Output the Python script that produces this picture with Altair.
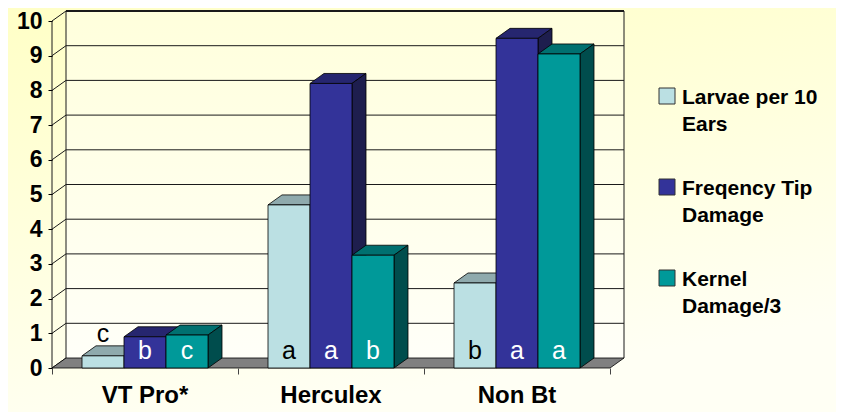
import altair as alt
import pandas as pd

# ---------------- data ----------------
categories = ["VT Pro*", "Herculex", "Non Bt"]
series = ["Larvae per 10 Ears", "Freqency Tip Damage", "Kernel Damage/3"]
legend_lines = [["Larvae per 10", "Ears"], ["Freqency Tip", "Damage"], ["Kernel", "Damage/3"]]
larvae = [0.35, 4.7, 2.45]
tip_damage = [0.9, 8.2, 9.5]
kernel_damage = [0.95, 3.25, 9.05]
larvae_letters = ["c", "a", "b"]
tip_letters = ["b", "a", "a"]
kernel_letters = ["c", "b", "a"]
y_ticks = list(range(0, 11))

values = [larvae, tip_damage, kernel_damage]
letters = [larvae_letters, tip_letters, kernel_letters]

# ---------------- styling / geometry ----------------
FONT = "Liberation Sans"
front_col = ["#BBE0E3", "#333399", "#009999"]
top_col = ["#8FAAAD", "#26266F", "#007070"]
side_col = ["#6E8587", "#1E1E4E", "#004D4D"]
letter_col = ["black", "white", "white"]

BAND = 186.0     # px per category
UNIT = 34.7      # px per y unit
DX, DY = 14.0, 10.0   # 3D depth offsets (px)
NCAT = len(categories)
W = NCAT * BAND + DX
H = 10 * UNIT + DY
dxu = DX / BAND
dyu = DY / UNIT
PADU = 30.0 / BAND
BWU = 42.0 / BAND
YMAX = 10
PAD = {"left": 44, "top": 3, "right": 212, "bottom": 44}

xs = alt.Scale(domain=[0, NCAT + dxu], nice=False, zero=False)
ys = alt.Scale(domain=[0, YMAX + dyu], nice=False, zero=False)

AX_X = alt.Axis(values=list(range(NCAT + 1)), labels=False, ticks=True, tickSize=6,
                tickColor="#444", domain=False, grid=False, title=None, zindex=2)
AX_Y = alt.Axis(values=y_ticks, tickSize=4, tickColor="black", domain=False, grid=False,
                labelFont=FONT, labelFontWeight="bold", labelFontSize=23,
                labelColor="black", labelPadding=6, title=None, zindex=2)

def X(f):
    return alt.X(f, type="quantitative", scale=xs, axis=AX_X)

def Y(f):
    return alt.Y(f, type="quantitative", scale=ys, axis=AX_Y)

one = pd.DataFrame({"a": [0]})
layers = []

# page background (gradient)
layers.append(alt.Chart(one).mark_rect(
    color=alt.Gradient(gradient="linear",
                       stops=[alt.GradientStop(color="#FFFFC6", offset=0),
                              alt.GradientStop(color="#FFFFF4", offset=1)],
                       x1=0, y1=0, x2=0.35, y2=1)
).encode(x=alt.value(-PAD["left"]), x2=alt.value(W + PAD["right"]),
         y=alt.value(-PAD["top"]), y2=alt.value(H + PAD["bottom"])))

# back wall
wall = pd.DataFrame({"x": [dxu], "x2": [NCAT + dxu], "y": [dyu], "y2": [YMAX + dyu]})
layers.append(alt.Chart(wall).mark_rect(
    color=alt.Gradient(gradient="linear",
                       stops=[alt.GradientStop(color="#FFFFDC", offset=0),
                              alt.GradientStop(color="#FFFFF8", offset=1)],
                       x1=0, y1=0, x2=0, y2=1)
).encode(x=X("x"), x2="x2", y=Y("y"), y2="y2"))

# grid lines: horizontal on back wall + diagonals on left wall
rules = []
for k in y_ticks:
    if k > 0:
        rules.append({"x": dxu, "x2": NCAT + dxu, "y": k + dyu, "y2": k + dyu, "w": 1.8 if k == YMAX else 1.0})
    rules.append({"x": 0, "x2": dxu, "y": k, "y2": k + dyu, "w": 1.0})
rules.append({"x": dxu, "x2": dxu, "y": dyu, "y2": YMAX + dyu, "w": 1.0})
rules.append({"x": NCAT + dxu, "x2": NCAT + dxu, "y": dyu, "y2": YMAX + dyu, "w": 1.0})
rules.append({"x": 0, "x2": 0, "y": 0, "y2": YMAX, "w": 1.0})
layers.append(alt.Chart(pd.DataFrame(rules)).mark_rule(color="#1a1a1a").encode(
    x=X("x"), x2="x2", y=Y("y"), y2="y2",
    strokeWidth=alt.StrokeWidth("w:Q", scale=None)))

# floor
floor = pd.DataFrame({"x": [0, dxu, NCAT, NCAT + dxu], "lo": [0, 0, 0, dyu], "hi": [0, dyu, dyu, dyu]})
layers.append(alt.Chart(floor).mark_area(color="#808080", stroke="black", strokeWidth=0.8,
                                         orient="vertical").encode(
    x=X("x"), y=Y("lo"), y2="hi"))

# bars (3D)
for j in range(len(series)):
    polys = []
    fronts = []
    for i, v in enumerate(values[j]):
        x0 = i + PADU + j * BWU
        x1 = x0 + BWU
        pid = f"{i}-{j}"
        for (px, lo, hi) in [(x0, v, v), (x0 + dxu, v, v + dyu), (x1, v, v + dyu), (x1 + dxu, v + dyu, v + dyu)]:
            polys.append({"pid": "t" + pid, "x": px, "lo": lo, "hi": hi, "c": top_col[j]})
        for (px, lo, hi) in [(x1, 0, v), (x1 + dxu, dyu, v + dyu)]:
            polys.append({"pid": "s" + pid, "x": px, "lo": lo, "hi": hi, "c": side_col[j]})
        fronts.append({"x": x0, "x2": x1, "y": 0, "y2": v})
    layers.append(alt.Chart(pd.DataFrame(polys)).mark_area(stroke="black", strokeWidth=0.8,
                                                           orient="vertical").encode(
        x=X("x"), y=Y("lo"), y2="hi",
        detail="pid:N", fill=alt.Fill("c:N", scale=None)))
    layers.append(alt.Chart(pd.DataFrame(fronts)).mark_rect(
        color=front_col[j], stroke="black", strokeWidth=0.8).encode(
        x=X("x"), x2="x2", y=Y("y"), y2="y2"))

# letters
lab = []
for j in range(len(series)):
    for i, v in enumerate(values[j]):
        x0 = i + PADU + j * BWU
        inside = v >= 0.8
        lab.append({"x": x0 + BWU / 2, "y": 0.25 if inside else v + 0.4, "t": letters[j][i],
                    "c": letter_col[j] if inside else "black"})
layers.append(alt.Chart(pd.DataFrame(lab)).mark_text(font=FONT, fontSize=25, baseline="alphabetic",
                                                     align="center").encode(
    x=X("x"), y=Y("y"), text="t:N", color=alt.Color("c:N", scale=None)))

# category labels
cat_df = pd.DataFrame({"x": [i + 0.5 for i in range(NCAT)], "t": categories})
layers.append(alt.Chart(cat_df).mark_text(font=FONT, fontSize=24, fontWeight="bold",
                                          baseline="alphabetic", align="center", color="black").encode(
    x=X("x"), y=alt.value(H + 35), text="t:N"))

# legend
for j, lines in enumerate(legend_lines):
    cy = 85 + 91 * j
    layers.append(alt.Chart(one).mark_rect(color=front_col[j], stroke="#333", strokeWidth=1).encode(
        x=alt.value(607), x2=alt.value(623), y=alt.value(cy - 8), y2=alt.value(cy + 8)))
    for li, line in enumerate(lines):
        layers.append(alt.Chart(pd.DataFrame({"t": [line]})).mark_text(
            font=FONT, fontSize=21, fontWeight="bold", align="left", baseline="alphabetic",
            color="black").encode(x=alt.value(630), y=alt.value(cy + 8 + 27 * li), text="t:N"))

chart = alt.layer(*layers).properties(
    width=W, height=H,
    autosize=alt.AutoSizeParams(type="none"),
    padding=PAD,
    background="#FFFFE6",
).configure_view(stroke=None)

chart.save("out.html", embed_options={"renderer": "svg", "actions": False})
